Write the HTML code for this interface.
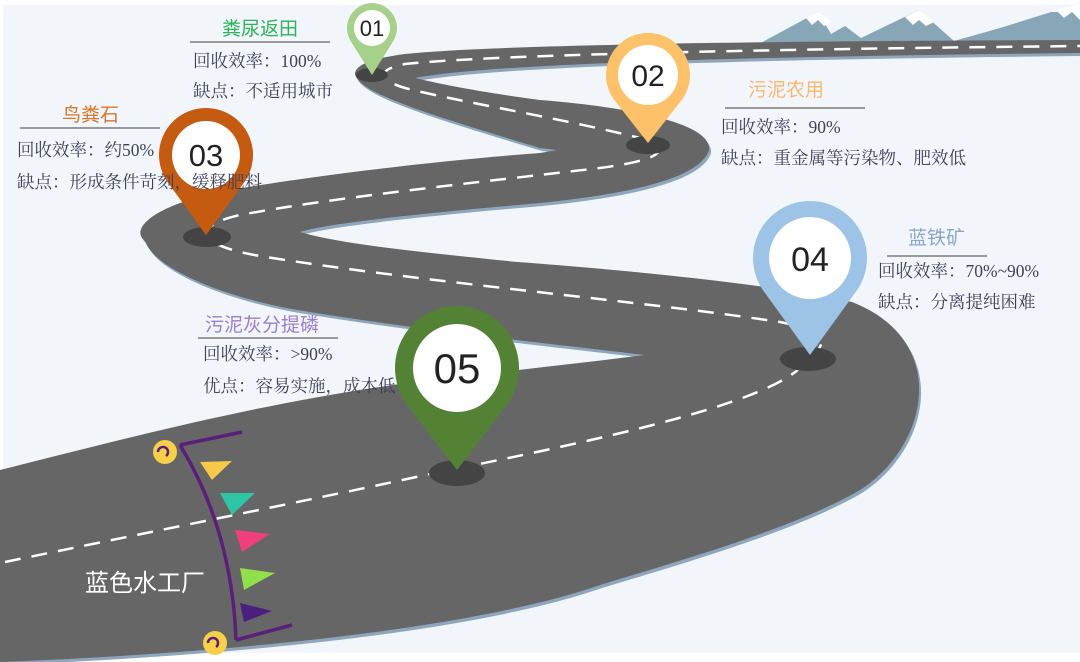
<!DOCTYPE html>
<html><head><meta charset="utf-8"><style>
html,body{margin:0;padding:0;background:#fff;}
.wrap{position:relative;width:1080px;height:662px;overflow:hidden;background:#fff;}
svg{position:absolute;left:0;top:0;}
.t{position:absolute;font-family:"Liberation Sans","Noto Sans CJK SC",sans-serif;font-size:19px;white-space:nowrap;line-height:22px;}
.b{position:absolute;font-family:"Liberation Serif","Noto Serif CJK SC",serif;font-size:17.5px;color:#3e4259;white-space:nowrap;line-height:20px;}
.ul{position:absolute;height:2px;background:#9a9a9a;}
</style></head><body><div class="wrap">
<svg width="1080" height="662" viewBox="0 0 1080 662">
<rect x="3" y="5" width="1077" height="648" fill="#f2f6fb"/>
<!-- mountains -->
<polygon points="757,45 818,12 831,34 845,26 861,38 919,10 954,41 1000,28 1080,3 1080,45" fill="#87a7b8"/>
<polygon points="806,18 818,12 832,22 824,26 818,20 812,25" fill="#fff"/>
<polygon points="905,17 919,10 934,22 926,26 919,20 913,25" fill="#fff"/>
<polygon points="1050,12 1080,3 1080,20 1072,12 1064,18 1058,12" fill="#fff"/>
<!-- road -->
<defs>
<path id="road" d="M0,662 C300,650 500,620 600,585 C700,555 800,525 860,490 C930,445 950,340 852,302 C760,282 600,268 517,262 C420,252 340,244 300,232 C330,222 460,210 540,203 C620,195 700,180 709,150 C712,125 640,108 540,100 C480,92 440,84 415,78 C500,62 800,56 1080,53 L1080,40 C800,41 500,44 405,54 C375,58 355,64 355,74 C358,92 420,112 540,148 L557,150 L540,153 C420,162 300,178 230,190 C150,205 130,230 145,241 C155,270 230,300 310,312 C420,330 560,345 645,355 C560,366 450,377 400,384 C250,405 120,440 0,470 Z"/>
</defs>
<use href="#road" transform="translate(2,3)" fill="#8ea6bd"/>
<use href="#road" fill="#666666"/>
<path d="M5,562 C150,532 330,496 430,474 C600,440 760,405 800,368 C840,335 820,330 780,322 C650,302 420,282 260,256 C190,244 195,225 240,215 C330,198 480,182 600,168 C660,160 675,150 640,138 C560,118 450,100 405,88 C378,80 375,70 405,64 C500,54 800,49 1080,46" fill="none" stroke="#fff" stroke-width="2.5" stroke-dasharray="16,11"/>
<ellipse cx="372" cy="75" rx="16" ry="7" fill="#444"/>
<ellipse cx="648" cy="145" rx="22" ry="9" fill="#444"/>
<ellipse cx="207" cy="237" rx="24" ry="10" fill="#444"/>
<ellipse cx="808" cy="359" rx="28" ry="12" fill="#444"/>
<ellipse cx="457" cy="473" rx="28" ry="13" fill="#444"/>
<path d="M372,75 L350.8,41.3 A25,25 0 1 1 393.2,41.3 Z" fill="#a6d18a"/>
<circle cx="372" cy="28" r="18" fill="#fff"/>
<path d="M648,143 L615,100.9 A42,42 0 1 1 681,100.9 Z" fill="#fdc16a"/>
<circle cx="648" cy="75" r="30" fill="#fff"/>
<path d="M206,235 L168,182.6 A47,47 0 1 1 244,182.6 Z" fill="#c55a11"/>
<circle cx="206" cy="155" r="34" fill="#fff"/>
<path d="M810,355 L763.9,291.5 A57,57 0 1 1 856.1,291.5 Z" fill="#9dc3e6"/>
<circle cx="810" cy="258" r="41" fill="#fff"/>
<path d="M457,470 L407.8,405.7 A62,62 0 1 1 506.2,405.7 Z" fill="#548235"/>
<circle cx="457" cy="368" r="44" fill="#fff"/>
<g font-family="Liberation Sans, sans-serif" fill="#222" text-anchor="middle">
<text x="372" y="36" font-size="22">01</text>
<text x="648" y="86" font-size="30">02</text>
<text x="206" y="166" font-size="31">03</text>
<text x="810" y="271" font-size="34">04</text>
<text x="457" y="383" font-size="42">05</text>
</g>
<path d="M180,445 Q232,530 236,640" fill="none" stroke="#5b1f7a" stroke-width="3.5"/>
<line x1="180" y1="445" x2="242" y2="432" stroke="#5b1f7a" stroke-width="3.5"/>
<line x1="236" y1="640" x2="292" y2="625" stroke="#5b1f7a" stroke-width="3.5"/>
<polygon points="200,462 232,461 212,480" fill="#f7c948"/>
<polygon points="220,493 255,493 232,515" fill="#2ec4a6"/>
<polygon points="235,530 270,534 242,552" fill="#ef3f7c"/>
<polygon points="240,568 275,573 244,590" fill="#8fe04a"/>
<polygon points="240,603 272,611 244,622" fill="#4a1f80"/>
<circle cx="165" cy="452" r="12" fill="#f7d04a"/>
<circle cx="215" cy="643" r="12" fill="#f7d04a"/>
<path d="M158,452 a5,5 0 1 1 8,4" fill="none" stroke="#5b1f7a" stroke-width="2.5"/>
<path d="M208,643 a5,5 0 1 1 8,4" fill="none" stroke="#5b1f7a" stroke-width="2.5"/>
</svg>
<div class="t" style="left:85px;top:570px;font-size:24px;line-height:28px;color:#fff;">蓝色水工厂</div>

<div class="t" style="left:222px;top:19px;color:#2db35a;">粪尿返田</div>
<div class="ul" style="left:190px;top:41px;width:140px;"></div>
<div class="b" style="left:193px;top:51px;">回收效率：100%</div>
<div class="b" style="left:193px;top:81px;">缺点：不适用城市</div>

<div class="t" style="left:62px;top:105px;color:#d9762b;">鸟粪石</div>
<div class="ul" style="left:20px;top:127px;width:140px;"></div>
<div class="b" style="left:17px;top:140px;">回收效率：约50%</div>
<div class="b" style="left:17px;top:172px;">缺点：形成条件苛刻，缓释肥料</div>

<div class="t" style="left:748px;top:80px;color:#f8b870;">污泥农用</div>
<div class="ul" style="left:725px;top:107px;width:140px;"></div>
<div class="b" style="left:721px;top:117px;">回收效率：90%</div>
<div class="b" style="left:721px;top:148px;">缺点：重金属等污染物、肥效低</div>

<div class="t" style="left:908px;top:228px;color:#8aa7c8;">蓝铁矿</div>
<div class="ul" style="left:887px;top:255px;width:100px;"></div>
<div class="b" style="left:878px;top:261px;">回收效率：70%~90%</div>
<div class="b" style="left:878px;top:292px;">缺点：分离提纯困难</div>

<div class="t" style="left:205px;top:315px;color:#9b7fcf;">污泥灰分提磷</div>
<div class="ul" style="left:198px;top:337px;width:140px;"></div>
<div class="b" style="left:203px;top:344px;">回收效率：&gt;90%</div>
<div class="b" style="left:203px;top:376px;">优点：容易实施，成本低</div>
</div></body></html>
